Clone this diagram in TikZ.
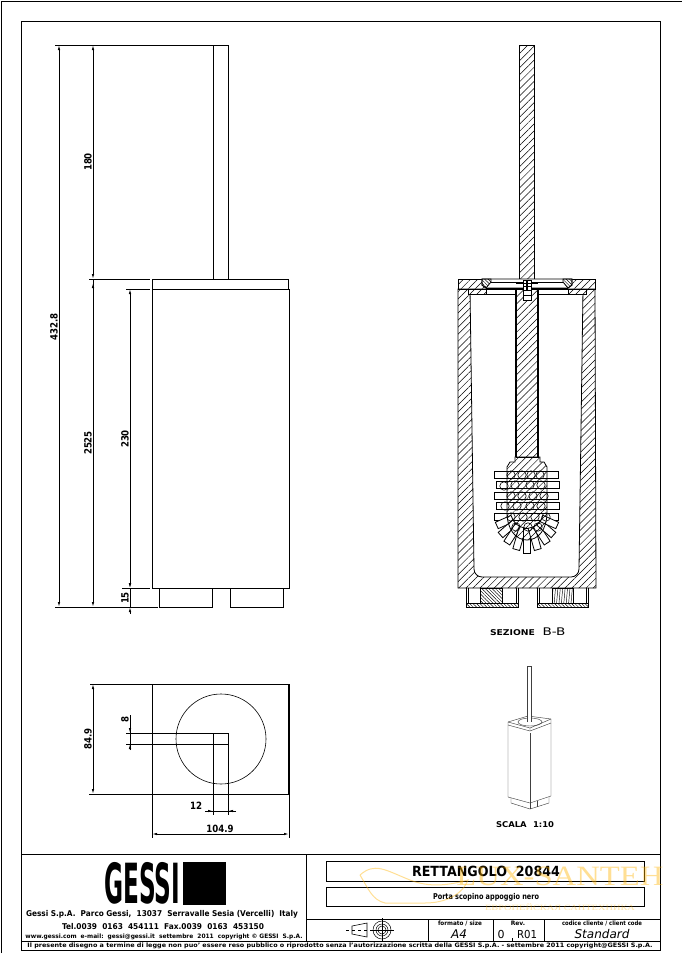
\documentclass[tikz,border=0pt]{standalone}
\usepackage{fontspec}
\setmainfont{DejaVu Sans}
\newfontfamily\wmfont{Liberation Serif}
\usetikzlibrary{arrows.meta,patterns.meta}
\newcommand{\fitw}[2]{\resizebox{#1}{\height}{#2}}
\newcommand{\dimnum}[1]{\scalebox{0.86}[1]{#1}}

\begin{document}
\begin{tikzpicture}[x=1pt,y=-1pt,line width=0.8pt,
    dimtip/.style={{Latex[length=5pt,width=2.4pt]}-{Latex[length=5pt,width=2.4pt]}},
    dimtxt/.style={font=\bfseries\fontsize{10}{11}\selectfont,inner sep=0pt},
    small/.style={font=\bfseries\fontsize{8}{9}\selectfont,inner sep=0pt},
    tiny/.style={font=\bfseries\fontsize{6}{7}\selectfont,inner sep=0pt},
    hatch/.style={pattern={Lines[angle=45,distance=5pt,line width=0.5pt]}},
    hatchb/.style={pattern={Lines[angle=-45,distance=2.4pt,line width=0.45pt]}},
    hatchv/.style={pattern={Lines[angle=85,distance=2.4pt,line width=0.45pt]}},
    bristle/.style={draw,fill=white,line width=0.8pt},
    thinline/.style={line width=0.45pt,black!75},
    wmcolor/.style={orange!60!yellow,opacity=0.42}]
    \useasboundingbox (0,0) rectangle (682,962);

    % sheet frame
    \draw (1,953) -- (1,1) -- (682,1);
    \draw (21,21) rectangle (660,950);
    \draw (21,854) -- (660,854);
    \draw (21,941) -- (660,941);
    \draw (306,854) -- (306,941);
    \draw (306,919) -- (660,919);
    \draw (428,919) -- (428,941);
    \draw (493,919) -- (493,941);
    \draw (544,919) -- (544,941);
    \draw (512,938) -- (512,941);
    \draw (326,861) rectangle (644,881);
    \draw (326,887) rectangle (644,906);

    % front view
    \draw (213,279) -- (213,45) -- (228,45) -- (228,279);
    \draw (152,289) -- (152,279) -- (288,279) -- (288,289);
    \draw (152,289) rectangle (289,588);
    \draw (159,588) -- (159,607) -- (212,607) -- (212,588);
    \draw (230,588) -- (230,607) -- (283,607) -- (283,588);
    \draw (55,45) -- (213,45);
    \draw (89,279) -- (150,279);
    \draw (126,289) -- (150,289);
    \draw (122,588) -- (150,588);
    \draw (55,607) -- (158,607);
    \draw[dimtip] (59,45) -- (59,607);
    \draw[dimtip] (93,45) -- (93,279);
    \draw[-{Latex[length=5pt,width=2.4pt]}] (93,279) -- (93,607);
    \draw[{Latex[length=5pt,width=2.4pt]}-] (93,283) -- (93,290);
    \draw[dimtip] (130,289) -- (130,588);
    \draw[-{Latex[length=5pt,width=2.4pt]}] (130,578) -- (130,588);
    \draw[{Latex[length=5pt,width=2.4pt]}-] (130,607) -- (130,614);
    \draw (130,588) -- (130,607);
    \node[dimtxt,rotate=90] (len432) at (54,327) {\dimnum{432.8}};
    \node[dimtxt,rotate=90] (len180) at (88,162) {\dimnum{180}};
    \node[dimtxt,rotate=90] (len252) at (88,443) {\dimnum{2525}};
    \node[dimtxt,rotate=90] (len230) at (125,439) {\dimnum{230}};
    \node[dimtxt,rotate=90] (len15) at (125,598) {\dimnum{15}};

    % top view
    \draw (152,684) rectangle (289,794);
    \draw[line width=1.6pt] (289,684) -- (289,794);
    \draw[line width=0.6pt] (221,739) circle (45);
    \draw (126,733) -- (228,733) -- (228,815);
    \draw (126,744) -- (228,744);
    \draw (213,733) -- (213,815);
    \draw (90,684) -- (152,684);
    \draw (89,794) -- (289,794);
    \draw (152,684) -- (152,838);
    \draw (289,794) -- (289,838);
    \draw[dimtip] (93,684) -- (93,794);
    \draw (130,715) -- (130,750);
    \draw[-{Latex[length=5pt,width=2.4pt]}] (130,726) -- (130,733);
    \draw[-{Latex[length=5pt,width=2.4pt]}] (130,750) -- (130,744);
    \draw (205,811) -- (236,811);
    \draw[-{Latex[length=5pt,width=2.4pt]}] (205,811) -- (213,811);
    \draw[-{Latex[length=5pt,width=2.4pt]}] (236,811) -- (228,811);
    \draw[dimtip] (152,834) -- (289,834);
    \node[dimtxt,rotate=90] (wid849) at (88,739) {\dimnum{84.9}};
    \node[dimtxt,rotate=90] (wid8) at (125,719) {\dimnum{8}};
    \node[dimtxt] (wid12) at (196,806) {\dimnum{12}};
    \node[dimtxt] (wid1049) at (220,829) {\dimnum{104.9}};

    % section: body and rod
    \draw[hatch,even odd rule] (458,289) -- (458,588) -- (596,588) -- (595,289) -- cycle
        (470,289) -- (474,569) arc[start angle=180,end angle=90,radius=8] -- (571,577)
        arc[start angle=90,end angle=0,radius=8] -- (583,289) -- cycle;
    \draw[hatch] (519,279) -- (519,45) -- (534,45) -- (534,279);
    \draw[hatch] (458,279) rectangle (595,289);
    \draw[fill=white] (482,279) -- (572,279) -- (572,285) -- (568,288) -- (486,288) -- (482,285) -- cycle;
    \draw[hatchb] (482,279) -- (491,279) -- (491,282) -- (486,288) -- (482,285) -- cycle;
    \draw[hatchb] (563,279) -- (572,279) -- (572,285) -- (568,288) -- (563,282) -- cycle;
    \draw[line width=0.5pt] (491,282) -- (563,282);
    \draw[fill=white] (468,289) rectangle (586,294);
    \draw[hatch] (468,289) rectangle (486,294);
    \draw[hatch] (568,289) rectangle (586,294);
    \draw[line width=1.5pt] (486,288.5) -- (568,288.5);
    \draw[fill=white] (516,289) rectangle (538,457);
    \draw[hatch] (516,289) rectangle (538,457);
    \draw[line width=1.6pt] (538,289) -- (538,457);
    \draw[line width=1.3pt] (516,289) -- (516,457);
    \draw[fill=white] (523,280) rectangle (531,300);
    \draw (516,283) -- (538,283);
    \draw (523,286) -- (531,286) (523,290) -- (531,290) (523,295) -- (531,295);
    \draw[line width=1.6pt] (527,280) -- (527,290);

    % section: brush head
    \foreach \ya/\xa/\xb in {471/494/558,481/496/559,492/494/558,502/496/559,513/494/558}
        \draw[bristle] (\xa,\ya) rectangle (\xb,\ya+7.5);
    \foreach \ang in {-66,-49,-33,-16,0,16,33,49,66}
        \draw[bristle,rotate around={\ang:(527,512)}] (523.5,528) rectangle (530.5,{553-abs(\ang)*0.12});
    \draw[hatch] (507,467) -- (510,462) -- (515,462) -- (515,457) -- (540,457) -- (540,462)
        -- (544,462) -- (547,467) -- (547,512) .. controls (547,530) and (538,540) .. (527,540)
        .. controls (516,540) and (507,530) .. (507,512) -- cycle;
    \foreach \cx/\cy in {511/475,522/475,531/475,540/475,504/486,515/485,530/485,541/485,
        511/496,522/496,533/496,544/496,505/506,517/506,530/506,541/506,
        511/517,523/517,535/517,546/517,516/527,528/527,538/527}
        \draw[line width=0.6pt] (\cx,\cy) circle (4.2);

    % section: feet
    \draw (466,588) -- (466,607) -- (518,607) -- (518,588);
    \draw (468,588) -- (468,603) -- (516,603) -- (516,588);
    \draw[hatchb] (466,603) rectangle (518,607);
    \draw[hatchb] (480,588) rectangle (502,603);
    \draw (537,588) -- (537,607) -- (588,607) -- (588,588);
    \draw (539,588) -- (539,603) -- (586,603) -- (586,588);
    \draw[hatchb] (537,603) rectangle (588,607);
    \draw[hatchv] (552,588) rectangle (573,603);
    \node[font=\bfseries\fontsize{8}{9}\selectfont,inner sep=0pt] (secname) at (512.5,633) {\fitw{45pt}{SEZIONE}};
    \node[font=\fontsize{10.5}{11}\selectfont,inner sep=0pt] (secmark) at (554,632) {\fitw{23pt}{B-B}};

    % small perspective view
    \draw[thinline] (508,725) -- (508,797) -- (530,803) -- (551,796) -- (551,723);
    \draw[thinline] (530,733) -- (530,803);
    \draw[thinline] (508,722) -- (528,716) -- (551,719) -- (551,723) -- (530,731) -- (508,725) -- cycle;
    \draw[thinline] (508,722) -- (530,728) -- (551,719) (530,728) -- (530,731);
    \draw[thinline] (530,722) ellipse (12 and 4);
    \draw[thinline,fill=white] (527.5,722) -- (527.5,666) -- (531.5,666) -- (531.5,722);
    \draw[thinline] (511,798) -- (511,803) -- (530,809) -- (549,803) -- (549,797);
    \draw[thinline] (530,803) -- (530,809) (537,807) -- (537,801);
    \node[font=\bfseries\fontsize{8}{9}\selectfont,inner sep=0pt] (scalename) at (525,825) {\fitw{58pt}{SCALA\hspace{6pt}1:10}};

    % title block
    \node[xscale=0.86,yscale=2.05,font=\bfseries\fontsize{27}{27}\selectfont,inner sep=0pt,anchor=east] (logo) at (180.5,883.5) {GESSI};
    \fill (183,862) rectangle (226,905);
    \node[small] (addr) at (162,914) {\fitw{272pt}{Gessi S.p.A.\ \ Parco Gessi,\ \ 13037\ \ Serravalle Sesia (Vercelli)\ \ Italy}};
    \node[small] (tel) at (163,927) {\fitw{202pt}{Tel.0039\ \ 0163\ \ 454111\ \ Fax.0039\ \ 0163\ \ 453150}};
    \node[tiny] (web) at (164,936.5) {\fitw{277pt}{www.gessi.com\ \ e-mail:\ \ gessi@gessi.it\ \ settembre\ \ 2011\ \ copyright\ ©\ GESSI\ \ S.p.A.}};
    \node[tiny] (notice) at (340,946) {\fitw{625pt}{Il presente disegno a termine di legge non puo' essere reso pubblico o riprodotto senza l'autorizzazione scritta della GESSI S.p.A. - settembre 2011 copyright@GESSI S.p.A.}};
    \node[font=\bfseries\fontsize{14}{15}\selectfont,inner sep=0pt] (title) at (486,871) {\fitw{148pt}{RETTANGOLO\ \ 20844}};
    \node[font=\bfseries\fontsize{8}{9}\selectfont,inner sep=0pt] (descr) at (486,897) {\fitw{106pt}{Porta scopino appoggio nero}};
    \node[tiny] (fmt) at (460,923) {\fitw{44pt}{formato / size}};
    \node[font=\itshape\fontsize{12}{13}\selectfont,inner sep=0pt] (fmtval) at (459,934) {A4};
    \node[tiny] (rev) at (518,923) {Rev.};
    \node[font=\fontsize{11}{12}\selectfont,inner sep=0pt] (rev0) at (501,934) {0};
    \node[font=\fontsize{11}{12}\selectfont,inner sep=0pt] (revval) at (527,934) {\fitw{20pt}{R01}};
    \node[tiny] (code) at (602,923) {\fitw{80pt}{codice cliente / client code}};
    \node[font=\itshape\fontsize{12}{13}\selectfont,inner sep=0pt] (codeval) at (602,934) {\fitw{55pt}{Standard}};

    % projection symbol
    \draw[line width=0.6pt] (352,926) -- (367,923) -- (367,937) -- (352,934) -- cycle;
    \draw[line width=0.5pt,dashed] (346,930) -- (373,930);
    \foreach \rad in {9,6,4}
        \draw[line width=0.5pt] (382,930) circle (\rad);
    \draw[line width=0.5pt] (370,930) -- (394,930) (382,918) -- (382,942);

    % watermark
    \node[font=\wmfont\fontsize{28}{28}\selectfont,text=orange!60!yellow,opacity=0.42,inner sep=0pt] (wmark) at (560,876) {\fitw{207pt}{LUX-SANTEH}};
    \node[font=\wmfont\fontsize{8}{8}\selectfont,text=orange!60!yellow,opacity=0.35,inner sep=0pt] (wmsub) at (560,907) {\fitw{150pt}{ЕВРОПЕЙСКАЯ САНТЕХНИКА}};
    \draw[wmcolor,line width=1pt] (360,875) .. controls (375,862) and (385,870) .. (410,880)
        .. controls (430,888) and (450,885) .. (468,880) .. controls (462,895) and (445,903) .. (425,903)
        -- (385,903) .. controls (372,900) and (368,888) .. (360,875);
\end{tikzpicture}
\end{document}
